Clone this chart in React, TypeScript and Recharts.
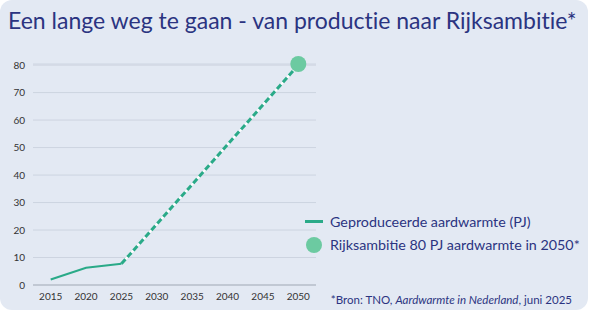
import { CartesianGrid, ComposedChart, Line, Scatter, XAxis, YAxis } from "recharts";

const producedYears = [2015, 2020, 2025];
const producedValues = [2, 6.3, 7.7];
const pathYears = [2025, 2050];
const pathValues = [7.7, 80];
const ambitionYear = 2050;
const ambitionValue = 80.4;
const xTicks = [2015, 2020, 2025, 2030, 2035, 2040, 2045, 2050];
const yTicks = [0, 10, 20, 30, 40, 50, 60, 70, 80];

const produced = producedYears.map((year, i) => ({ year, value: producedValues[i] }));
const path = pathYears.map((year, i) => ({ year, value: pathValues[i] }));
const ambition = [{ year: ambitionYear, value: ambitionValue }];

const NAVY = "#2b3481";
const TEAL = "#2aaa88";
const GREEN = "#6ccaa1";
const FONT = "Lato, 'Open Sans', sans-serif";

function LegendBox() {
  return (
    <div style={{ fontFamily: FONT, color: NAVY, fontSize: 14.3 }}>
      <div style={{ display: "flex", alignItems: "center", height: 23 }}>
        <span style={{ width: 18, height: 3, background: TEAL, marginRight: 7, marginLeft: 1 }} />
        Geproduceerde aardwarmte (PJ)
      </div>
      <div style={{ display: "flex", alignItems: "center", height: 23 }}>
        <span
          style={{ width: 16, height: 16, borderRadius: 8, background: GREEN, marginRight: 8, marginLeft: 2 }}
        />
        Rijksambitie 80 PJ aardwarmte in 2050*
      </div>
    </div>
  );
}

export default function App() {
  return (
    <div
      style={{
        position: "fixed",
        left: 0,
        top: 0,
        width: 588,
        height: 310,
        background: "#e3e9f3",
        borderRadius: 12,
        fontFamily: FONT,
      }}
    >
      <div
        style={{
          position: "absolute",
          left: 8,
          top: 6,
          fontSize: 23,
          color: NAVY,
          whiteSpace: "nowrap",
          fontVariantLigatures: "none",
        }}
      >
        Een lange weg te gaan - van productie naar Rijksambitie*
      </div>
      <ComposedChart
        width={588}
        height={310}
        margin={{ top: 64, right: 272, left: 0, bottom: 0 }}
        style={{ position: "absolute", left: 0, top: 0 }}
      >
        <CartesianGrid vertical={false} stroke="#cdd4e0" />
        <XAxis
          dataKey="year"
          type="number"
          domain={[2012.5, 2052.5]}
          ticks={xTicks}
          height={25}
          tickLine={false}
          axisLine={{ stroke: "#aab1bd" }}
          tick={{ fill: "#333", fontSize: 10, fontFamily: FONT }}
          allowDuplicatedCategory={false}
        />
        <YAxis
          type="number"
          domain={[0, 80]}
          ticks={yTicks}
          width={33}
          tickLine={false}
          axisLine={false}
          tick={{ fill: "#333", fontSize: 10, fontFamily: FONT }}
        />
        <Line
          data={path}
          dataKey="value"
          stroke="#ffffff"
          strokeWidth={2}
          dot={false}
          isAnimationActive={false}
        />
        <Line
          data={path}
          dataKey="value"
          stroke={TEAL}
          strokeWidth={3}
          strokeDasharray="6 3"
          dot={false}
          isAnimationActive={false}
        />
        <Line
          data={produced}
          dataKey="value"
          stroke={TEAL}
          strokeWidth={2}
          dot={false}
          isAnimationActive={false}
        />
        <Scatter
          data={ambition}
          dataKey="value"
          fill={GREEN}
          shape={(p: any) => <circle cx={p.cx} cy={p.cy} r={8} fill={GREEN} />}
          isAnimationActive={false}
        />
      </ComposedChart>
      <div style={{ position: "absolute", left: 304, top: 210 }}>
        <LegendBox />
      </div>
      <div
        style={{
          position: "absolute",
          right: 16,
          top: 293,
          fontSize: 11.5,
          color: NAVY,
          whiteSpace: "nowrap",
        }}
      >
        *Bron: TNO, <i>Aardwarmte in Nederland</i>, juni 2025
      </div>
    </div>
  );
}
